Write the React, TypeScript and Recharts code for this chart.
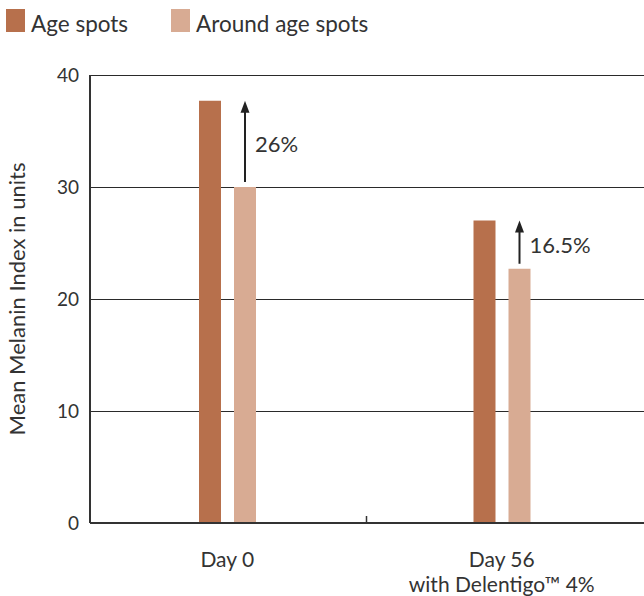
import React from "react";
import { BarChart, Bar, XAxis, YAxis, CartesianGrid, LabelList, Label } from "recharts";

const categories = [["Day 0"], ["Day 56", "with Delentigo™ 4%"]];
const ageSpots = [37.7, 27.0];
const aroundAgeSpots = [30.0, 22.7];
const increaseLabels = ["26%", "16.5%"];
const yTicks = [0, 10, 20, 30, 40];

const series = [
  { key: "age", name: "Age spots", color: "#B7704C" },
  { key: "around", name: "Around age spots", color: "#D8AB93" },
];

const data = categories.map((lines, i) => ({
  name: lines.join("\n"),
  age: ageSpots[i],
  around: aroundAgeSpots[i],
}));

const FONT = "Lato, 'Open Sans', sans-serif";
const WEIGHT = 400;
const TEXT = "#333333";
const LEGEND_X = [6, 171];

const XTick = (props: any) => {
  const { x, y, payload } = props;
  const index = props.index ?? payload.index ?? 0;
  const lines = categories[index] ?? String(payload.value).split("\n");
  const half = payload.offset ?? 0;
  return (
    <g>
      {index === 0 && half > 0 && (
        <line x1={x + half + 2} x2={x + half + 2} y1={y - 7} y2={y} stroke={TEXT} strokeWidth={1.5} />
      )}
      <text x={x} y={y} textAnchor="middle" fill={TEXT} fontSize={21} fontFamily={FONT} fontWeight={WEIGHT}>
        {lines.map((l, j) => (
          <tspan key={j} x={x} dy={j === 0 ? 44 : 25}>
            {l}
          </tspan>
        ))}
      </text>
    </g>
  );
};

// arrow from the lighter bar up to the level of the darker one
const renderIncrease = (props: any) => {
  const x = Number(props.x);
  const y = Number(props.y);
  const width = Number(props.width);
  const height = Number(props.height);
  const index = props.index ?? 0;
  const pxPerUnit = height / aroundAgeSpots[index];
  const tipY = y + height - ageSpots[index] * pxPerUnit;
  const cx = x + width / 2;
  const baseY = y - 5;
  return (
    <g>
      <line x1={cx} x2={cx} y1={baseY} y2={tipY + 10} stroke="#222" strokeWidth={2} />
      <polygon points={`${cx},${tipY} ${cx - 4.5},${tipY + 12} ${cx + 4.5},${tipY + 12}`} fill="#222" />
      <text
        x={cx + 10}
        y={(tipY + baseY) / 2 + 2}
        dominantBaseline="central"
        fill={TEXT}
        fontSize={22}
        fontFamily={FONT}
        fontWeight={WEIGHT}
      >
        {increaseLabels[index]}
      </text>
    </g>
  );
};

const YLabel = (props: any) => {
  const vb = props.viewBox || {};
  const cx = (vb.x ?? 0) + 25;
  const cy = (vb.y ?? 0) + (vb.height ?? 0) / 2;
  return (
    <text
      x={cx}
      y={cy}
      transform={`rotate(-90, ${cx}, ${cy})`}
      textAnchor="middle"
      fill={TEXT}
      fontSize={22}
      fontFamily={FONT}
      fontWeight={WEIGHT}
    >
      Mean Melanin Index in units
    </text>
  );
};

export default function App() {
  return (
    <div style={{ position: "absolute", left: 0, top: 0, width: 644, height: 596, background: "#fff" }}>
      <svg width={644} height={40} style={{ position: "absolute", left: 0, top: 0 }}>
        {series.map((s, i) => (
          <g key={s.key}>
            <rect x={LEGEND_X[i]} y={9} width={19} height={23} fill={s.color} />
            <text x={LEGEND_X[i] + 25} y={31.5} fill={TEXT} fontSize={22.5} fontFamily={FONT} fontWeight={WEIGHT}>
              {s.name}
            </text>
          </g>
        ))}
      </svg>
      <div style={{ position: "absolute", left: 0, top: 0 }}>
        <BarChart
          width={644}
          height={596}
          data={data}
          margin={{ top: 75, right: 0, bottom: 0, left: 0 }}
          barSize={22}
          barGap={13}
        >
          <CartesianGrid vertical={false} stroke="#2a2a2a" strokeWidth={1} shapeRendering="crispEdges" />
          <XAxis
            dataKey="name"
            height={73}
            tickLine={false}
            tickSize={0}
            tickMargin={0}
            padding={{ left: 0, right: 5 }}
            axisLine={{ stroke: TEXT, strokeWidth: 2 }}
            tick={<XTick />}
            interval={0}
          />
          <YAxis
            width={90}
            domain={[0, 40]}
            ticks={yTicks}
            tickLine={false}
            tickSize={0}
            tickMargin={11}
            axisLine={{ stroke: TEXT, strokeWidth: 2 }}
            tick={{ fill: TEXT, fontSize: 19, fontFamily: FONT, fontWeight: WEIGHT }}
          >
            <Label content={<YLabel />} />
          </YAxis>
          <Bar dataKey="age" fill={series[0].color} isAnimationActive={false} />
          <Bar dataKey="around" fill={series[1].color} isAnimationActive={false}>
            <LabelList dataKey="around" content={renderIncrease} />
          </Bar>
        </BarChart>
      </div>
    </div>
  );
}
